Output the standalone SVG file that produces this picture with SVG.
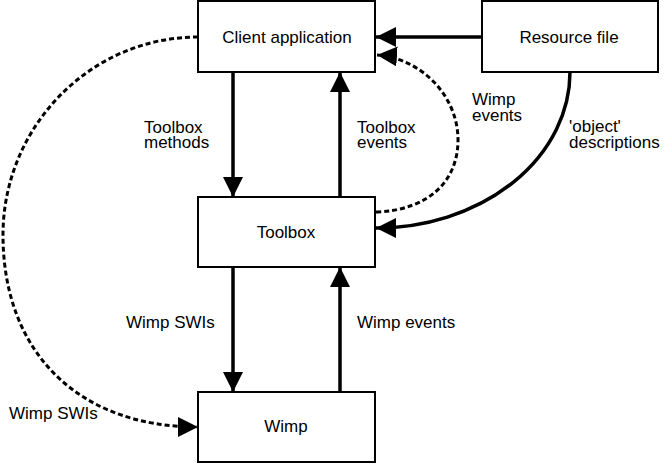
<svg xmlns="http://www.w3.org/2000/svg" width="664" height="465" viewBox="0 0 664 465">
<style>
.box{fill:#fff;stroke:#000;stroke-width:2}
.lbl{font-family:"Liberation Sans",Arial,sans-serif;font-size:17px;fill:#000}
.c{text-anchor:middle}
.solid{fill:none;stroke:#000;stroke-width:3.5}
.dash{fill:none;stroke:#000;stroke-width:3;stroke-dasharray:5 3}
</style>
<defs>
<marker id="ah" markerUnits="userSpaceOnUse" markerWidth="20" markerHeight="20" refX="20" refY="10" orient="auto" viewBox="0 0 20 20">
<path d="M0,0 L20,10 L0,20 z" fill="#000"/>
</marker>
</defs>
<rect width="664" height="465" fill="#fff"/>
<g id="connectors">
<line class="solid" x1="482" y1="37" x2="376" y2="37" marker-end="url(#ah)"/>
<line class="solid" x1="233" y1="72" x2="233" y2="197" marker-end="url(#ah)"/>
<line class="solid" x1="340" y1="197" x2="340" y2="72" marker-end="url(#ah)"/>
<line class="solid" x1="233" y1="267" x2="233" y2="392" marker-end="url(#ah)"/>
<line class="solid" x1="340" y1="392" x2="340" y2="267" marker-end="url(#ah)"/>
<path class="solid" d="M570,72 A194,156 0 0 1 376,228" marker-end="url(#ah)"/>
<path class="dash" d="M376,212 C430,210 458,180 458,140 C458,95 420,58 377,55" marker-end="url(#ah)"/>
<path class="dash" d="M198,37 C90,37 3,127 3,235 C3,352 78,427 198,427" marker-end="url(#ah)"/>
</g>
<g id="client">
<rect class="box" x="198" y="1" width="177" height="71"/>
<text class="lbl c" x="287" y="43">Client application</text>
</g>
<g id="resource">
<rect class="box" x="482" y="1" width="176" height="71"/>
<text class="lbl c" x="569" y="43">Resource file</text>
</g>
<g id="toolbox">
<rect class="box" x="198" y="197" width="177" height="70"/>
<text class="lbl c" x="286" y="238">Toolbox</text>
</g>
<g id="wimp">
<rect class="box" x="198" y="392" width="177" height="70"/>
<text class="lbl c" x="286" y="432">Wimp</text>
</g>
<g id="labels">
<text class="lbl" x="144" y="133">Toolbox</text>
<text class="lbl" x="144" y="148">methods</text>
<text class="lbl" x="357" y="133">Toolbox</text>
<text class="lbl" x="357" y="148">events</text>
<text class="lbl" x="472" y="105">Wimp</text>
<text class="lbl" x="472" y="121">events</text>
<text class="lbl" x="569" y="132">'object'</text>
<text class="lbl" x="569" y="148">descriptions</text>
<text class="lbl" x="126" y="328">Wimp SWIs</text>
<text class="lbl" x="357" y="328">Wimp events</text>
<text class="lbl" x="9" y="419">Wimp SWIs</text>
</g>
</svg>
